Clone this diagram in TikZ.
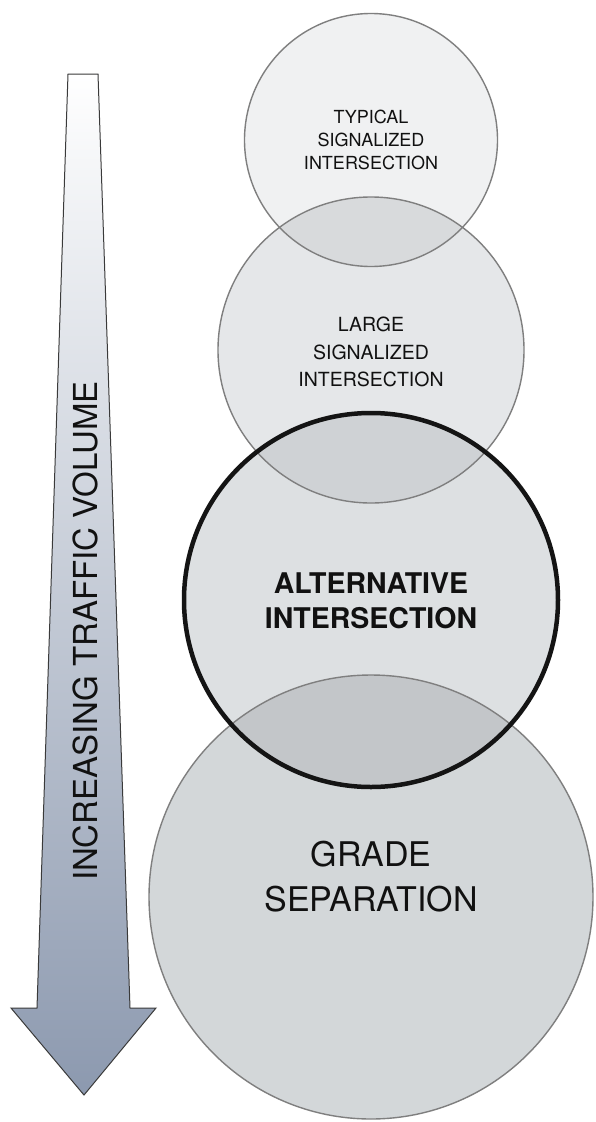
\documentclass[tikz,border=0pt]{standalone}
\usepackage{fontspec}
\setmainfont{TeX Gyre Heros}
\definecolor{fillA}{HTML}{F0F1F2}
\definecolor{fillB}{HTML}{E5E7E9}
\definecolor{fillC}{HTML}{DDE0E2}
\definecolor{fillD}{HTML}{D3D7D9}
\definecolor{ovAB}{HTML}{D8DADC}
\definecolor{ovBC}{HTML}{CFD2D5}
\definecolor{ovCD}{HTML}{C3C6C9}
\definecolor{rimgray}{HTML}{7F7F7F}
\definecolor{arrowblue}{RGB}{140,153,175}
\definecolor{arrowmid}{RGB}{212,218,228}
\definecolor{arrowrim}{HTML}{3A3A3A}
\definecolor{ink}{HTML}{111111}
\begin{document}
\begin{tikzpicture}[x=1pt,y=-1pt,
  ring/.style={circle,draw=rimgray,line width=1.4pt,inner sep=0pt,outer sep=0pt},
  boldring/.style={circle,draw=black!92,line width=4.5pt,inner sep=0pt,outer sep=0pt},
  label/.style={align=center,text=ink,inner sep=0pt},
  bigarrow/.style={draw=arrowrim,line width=1pt,top color=white,middle color=arrowmid,bottom color=arrowblue,line join=miter}
]
\useasboundingbox (0,0) rectangle (595,1122);
\fill[white] (0,0) rectangle (595,1122);

% arrow
\path[bigarrow] (68,74) -- (98,74) -- (130,1008) -- (156,1008) -- (84,1095) -- (11,1008) -- (37,1008) -- cycle;
\node[label,rotate=90,font=\fontsize{33}{40}\selectfont] (vol) at (85,631) {INCREASING TRAFFIC VOLUME};

% circle fills
\fill[fillA] (371,140) circle[radius=126.5pt];
\fill[fillB] (371,350) circle[radius=153pt];
\fill[fillC] (371,600) circle[radius=187pt];
\fill[fillD] (371,897) circle[radius=222pt];
% overlaps
\begin{scope}
  \clip (371,140) circle[radius=126.5pt];
  \fill[ovAB] (371,350) circle[radius=153pt];
\end{scope}
\begin{scope}
  \clip (371,350) circle[radius=153pt];
  \fill[ovBC] (371,600) circle[radius=187pt];
\end{scope}
\begin{scope}
  \clip (371,600) circle[radius=187pt];
  \fill[ovCD] (371,897) circle[radius=222pt];
\end{scope}

% outlines
\node[ring,minimum size=253pt] (c1) at (371,140) {};
\node[ring,minimum size=306pt] (c2) at (371,350) {};
\node[ring,minimum size=444pt] (c4) at (371,897) {};
\node[boldring,minimum size=374pt] (c3) at (371,600) {};

% texts
\node[label,font=\fontsize{18}{23}\selectfont] (t1) at (371,140) {TYPICAL\\SIGNALIZED\\INTERSECTION};
\node[label,font=\fontsize{19.5}{27.5}\selectfont] (t2) at (371,352) {LARGE\\SIGNALIZED\\INTERSECTION};
\node[label,font=\fontsize{28.5}{35.5}\bfseries\selectfont] (t3) at (371,601) {ALTERNATIVE\\INTERSECTION};
\node[label,font=\fontsize{34}{45}\selectfont] (t4) at (371,877) {GRADE\\SEPARATION};
\end{tikzpicture}
\end{document}
